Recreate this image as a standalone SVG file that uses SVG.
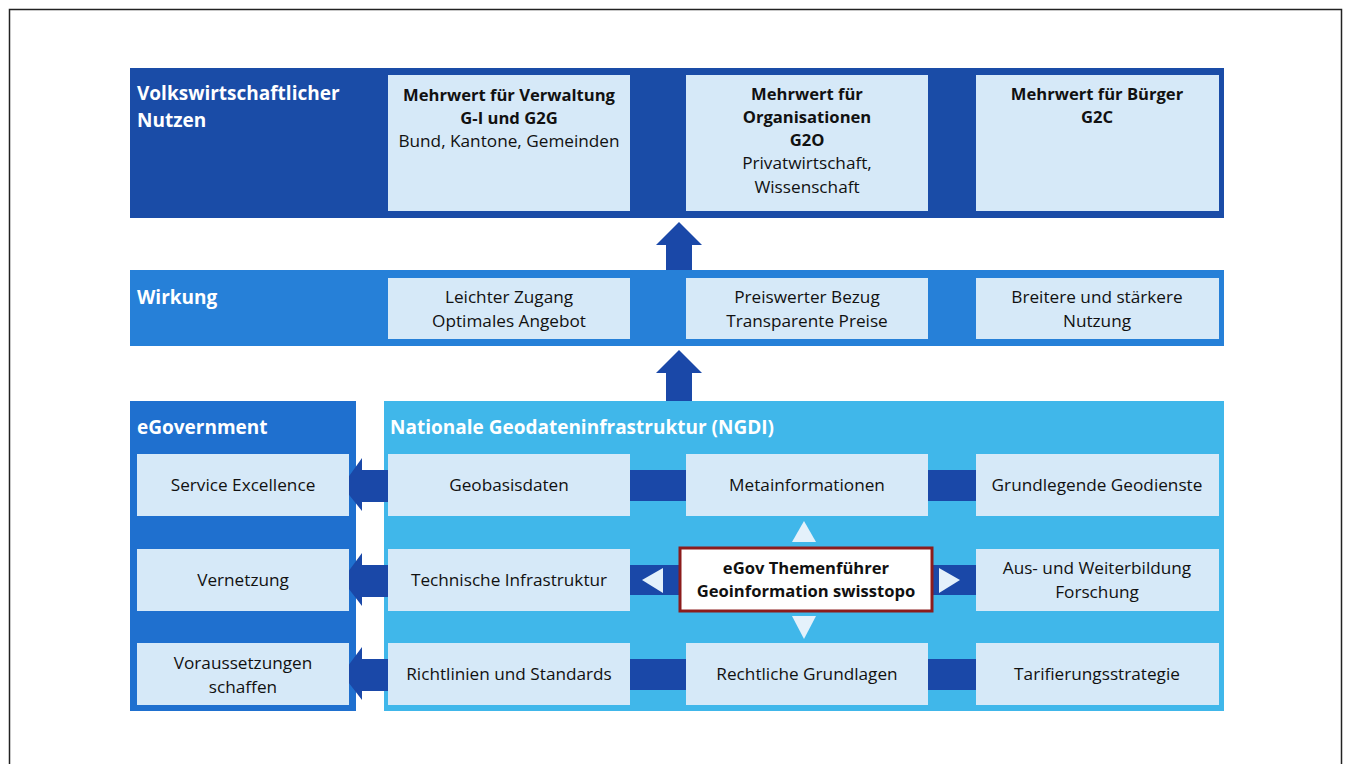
<svg xmlns="http://www.w3.org/2000/svg" width="1347" height="764" viewBox="0 0 1347 764">
<style>
  .t { font-family: "Open Sans", "Noto Sans", "Liberation Sans", sans-serif; font-size: 17.2px; fill: #111; text-anchor: middle; }
  .b { font-weight: bold; font-size: 16.6px; }
  .h { font-family: "Open Sans", "Noto Sans", "Liberation Sans", sans-serif; font-size: 19px; font-weight: bold; fill: #fff; }
  .box { fill: #d6e9f8; }
  .con { fill: #1a48a8; }
  .tri { fill: #e4f1fb; }
</style>
<rect x="0" y="0" width="1347" height="764" fill="#fff"/>
<rect x="9.5" y="9.5" width="1332" height="800" fill="none" stroke="#222" stroke-width="1.5"/>

<g id="band-nutzen">
  <rect x="130" y="68" width="1094" height="150" fill="#1a4ca7"/>
  <text class="h" x="137" y="100">Volkswirtschaftlicher</text>
  <text class="h" x="137" y="127">Nutzen</text>
</g>
<g id="mehrwert-verwaltung">
  <rect class="box" x="388" y="75" width="242" height="136"/>
  <text class="t b" x="509" y="101">Mehrwert für Verwaltung</text>
  <text class="t b" x="509" y="124">G-I und G2G</text>
  <text class="t" x="509" y="147">Bund, Kantone, Gemeinden</text>
</g>
<g id="mehrwert-organisationen">
  <rect class="box" x="686" y="75" width="242" height="136"/>
  <text class="t b" x="807" y="100">Mehrwert für</text>
  <text class="t b" x="807" y="123">Organisationen</text>
  <text class="t b" x="807" y="146">G2O</text>
  <text class="t" x="807" y="169">Privatwirtschaft,</text>
  <text class="t" x="807" y="193">Wissenschaft</text>
</g>
<g id="mehrwert-buerger">
  <rect class="box" x="976" y="75" width="243" height="136"/>
  <text class="t b" x="1097" y="100">Mehrwert für Bürger</text>
  <text class="t b" x="1097" y="123">G2C</text>
</g>

<g id="band-wirkung">
  <rect x="130" y="270" width="1094" height="76" fill="#2680d8"/>
  <text class="h" x="137" y="304">Wirkung</text>
</g>
<g id="wirkung-zugang">
  <rect class="box" x="388" y="278" width="242" height="61"/>
  <text class="t" x="509" y="303">Leichter Zugang</text>
  <text class="t" x="509" y="327">Optimales Angebot</text>
</g>
<g id="wirkung-preis">
  <rect class="box" x="686" y="278" width="242" height="61"/>
  <text class="t" x="807" y="303">Preiswerter Bezug</text>
  <text class="t" x="807" y="327">Transparente Preise</text>
</g>
<g id="wirkung-nutzung">
  <rect class="box" x="976" y="278" width="243" height="61"/>
  <text class="t" x="1097" y="303">Breitere und stärkere</text>
  <text class="t" x="1097" y="327">Nutzung</text>
</g>

<g id="panel-egov">
  <rect x="130" y="401" width="226" height="310" fill="#1f70cf"/>
  <text class="h" x="137" y="434">eGovernment</text>
</g>
<g id="panel-ngdi">
  <rect x="384" y="401" width="840" height="310" fill="#40b7ea"/>
  <text class="h" x="390" y="434">Nationale Geodateninfrastruktur (NGDI)</text>
</g>

<g id="connectors">
  <polygon class="con" points="666,270 692,270 692,245 702,245 679,222 656,245 666,245"/>
  <polygon class="con" points="666,401 692,401 692,373 702,373 679,350 656,373 666,373"/>
  <polygon class="con" points="388,470 362,470 362,458 342,486 362,511 362,502 388,502"/>
  <polygon class="con" points="388,565 362,565 362,553 342,580 362,606 362,597 388,597"/>
  <polygon class="con" points="388,659 362,659 362,647 342,674 362,700 362,691 388,691"/>
  <rect class="con" x="630" y="470" width="56" height="31"/>
  <rect class="con" x="928" y="470" width="48" height="31"/>
  <rect class="con" x="630" y="565" width="49" height="30"/>
  <polygon class="tri" points="642,580 663,568 663,593"/>
  <rect class="con" x="933" y="565" width="43" height="30"/>
  <polygon class="tri" points="960,580 939,568 939,593"/>
  <rect class="con" x="630" y="659" width="56" height="31"/>
  <rect class="con" x="928" y="659" width="48" height="31"/>
  <polygon class="tri" points="804,521 816,542 792,542"/>
  <polygon class="tri" points="804,639 816,616 792,616"/>
</g>

<g id="service-excellence">
  <rect class="box" x="137" y="454" width="212" height="62"/>
  <text class="t" x="243" y="491">Service Excellence</text>
</g>
<g id="vernetzung">
  <rect class="box" x="137" y="549" width="212" height="62"/>
  <text class="t" x="243" y="586">Vernetzung</text>
</g>
<g id="voraussetzungen">
  <rect class="box" x="137" y="643" width="212" height="62"/>
  <text class="t" x="243" y="669">Voraussetzungen</text>
  <text class="t" x="243" y="693">schaffen</text>
</g>

<g id="geobasisdaten">
  <rect class="box" x="388" y="454" width="242" height="62"/>
  <text class="t" x="509" y="491">Geobasisdaten</text>
</g>
<g id="metainformationen">
  <rect class="box" x="686" y="454" width="242" height="62"/>
  <text class="t" x="807" y="491">Metainformationen</text>
</g>
<g id="geodienste">
  <rect class="box" x="976" y="454" width="243" height="62"/>
  <text class="t" x="1097" y="491">Grundlegende Geodienste</text>
</g>
<g id="technische-infrastruktur">
  <rect class="box" x="388" y="549" width="242" height="62"/>
  <text class="t" x="509" y="586">Technische Infrastruktur</text>
</g>
<g id="themenfuehrer">
  <rect x="680" y="548" width="252" height="63" fill="#fff" stroke="#8c1c1c" stroke-width="3"/>
  <text class="t b" x="806" y="574">eGov Themenführer</text>
  <text class="t b" x="806" y="597">Geoinformation swisstopo</text>
</g>
<g id="weiterbildung">
  <rect class="box" x="976" y="549" width="243" height="62"/>
  <text class="t" x="1097" y="574">Aus- und Weiterbildung</text>
  <text class="t" x="1097" y="598">Forschung</text>
</g>
<g id="richtlinien">
  <rect class="box" x="388" y="643" width="242" height="62"/>
  <text class="t" x="509" y="680">Richtlinien und Standards</text>
</g>
<g id="rechtliche-grundlagen">
  <rect class="box" x="686" y="643" width="242" height="62"/>
  <text class="t" x="807" y="680">Rechtliche Grundlagen</text>
</g>
<g id="tarifierung">
  <rect class="box" x="976" y="643" width="243" height="62"/>
  <text class="t" x="1097" y="680">Tarifierungsstrategie</text>
</g>
</svg>
